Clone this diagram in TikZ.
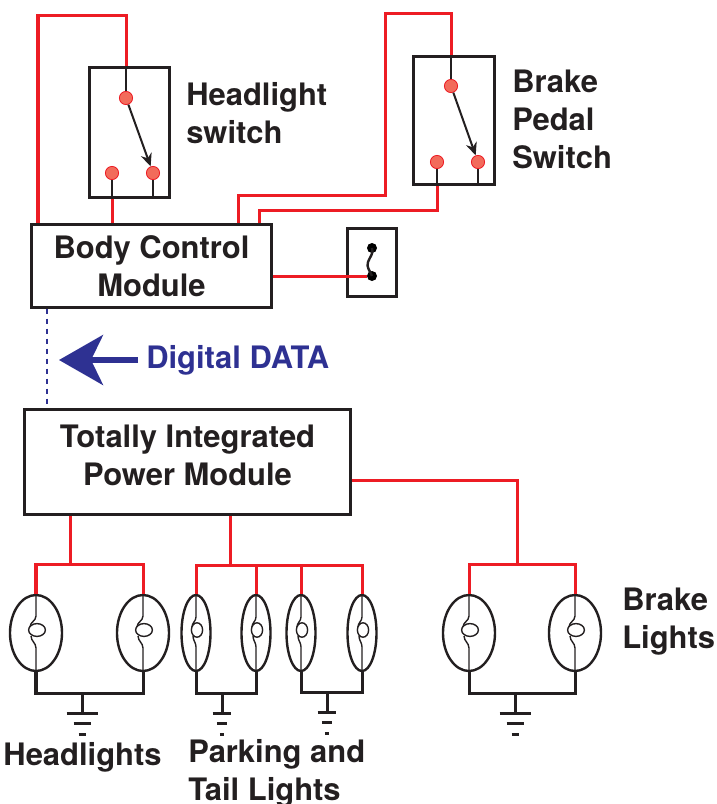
\documentclass[tikz,border=0pt]{standalone}
\usepackage{fontspec}
\setmainfont{TeX Gyre Heros}
\usepackage{tikz}
\usetikzlibrary{shapes,arrows.meta,calc}

\definecolor{wirered}{HTML}{ED1C24}
\definecolor{pinfill}{HTML}{F26B5B}
\definecolor{inkblack}{HTML}{231F20}
\definecolor{datablue}{HTML}{2E3192}

\tikzset{
  wire/.style={wirered, line width=0.075cm},
  lead/.style={inkblack, line width=0.05cm},
  box/.style={draw=inkblack, line width=0.075cm, inner sep=0pt},
  pin/.style={circle, draw=wirered, fill=pinfill, line width=0.02cm, minimum size=0.33cm, inner sep=0pt},
  lamp/.style={ellipse, draw=inkblack, line width=0.06cm, minimum height=1.9cm, inner sep=0pt},
  fil/.style={inkblack, line width=0.035cm},
  gnd/.style={inkblack, line width=0.075cm},
  lbl/.style={font=\bfseries\fontsize{22}{27}\selectfont, text=inkblack, inner sep=0pt},
  dataline/.style={datablue, line width=0.05cm, dash pattern=on 0.125cm off 0.125cm},
  dataarrow/.style={datablue, line width=0.14cm, -{Stealth[length=1.1cm, width=1.25cm, inset=0.3cm]}},
}

\begin{document}
\begin{tikzpicture}[x=0.025cm, y=-0.025cm]
  \useasboundingbox (0,0) rectangle (717,804);

  \node[box, minimum width=1.975cm, minimum height=3.225cm] (hsw) at (129.5,132.5) {};
  \node[box, minimum width=2cm, minimum height=3.175cm] (bsw) at (454,120.5) {};
  \node[box, lbl, align=center, minimum width=5.975cm, minimum height=2.05cm] (bcm) at (151.5,266) {Body Control\\Module};
  \node[box, minimum width=1.2cm, minimum height=1.675cm] (ctc) at (372,262.5) {};
  \node[box, minimum width=8.125cm, minimum height=2.6cm] (tipm) at (187.5,462) {};
  \node[lbl, align=center] (tipmtxt) at (187.5,455) {Totally Integrated\\Power Module};

  \node[pin] (hp1) at (126,98) {};
  \node[pin] (hp2) at (112,173) {};
  \node[pin] (hp3) at (153,173) {};
  \node[pin] (bp1) at (451,86) {};
  \node[pin] (bp2) at (437,162) {};
  \node[pin] (bp3) at (478,162) {};

  \draw[lead] (hp1) -- (hp1 |- hsw.north);
  \draw[lead] (hp2) -- (hp2 |- hsw.south);
  \draw[lead] (hp3) -- (hp3 |- hsw.south);
  \draw[lead] (bp1) -- (bp1 |- bsw.north);
  \draw[lead] (bp2) -- (bp2 |- bsw.south);
  \draw[lead] (bp3) -- (bp3 |- bsw.south);
  \draw[lead, -{Stealth[length=0.32cm, width=0.28cm]}] (hp1) -- (hp3);
  \draw[lead, -{Stealth[length=0.32cm, width=0.28cm]}] (bp1) -- (bp3);

  \node[lbl, align=left, anchor=west] (hswlbl) at (186,113) {Headlight\\switch};
  \node[lbl, align=left, anchor=west] (bswlbl) at (512,119) {Brake\\Pedal\\Switch};

  \coordinate (hloop) at (38,15);
  \draw[wire] (hp1 |- hsw.north) |- (hloop) -- (hloop |- bcm.north);
  \draw[wire] (hp2 |- hsw.south) -- (hp2 |- bcm.north);
  \coordinate (bknee) at (238,195);
  \coordinate (btop) at (385,13);
  \draw[wire] (bknee |- bcm.north) -- (bknee) -| (btop) -| (bp1 |- bsw.north);
  \coordinate (bknee2) at (259,210);
  \draw[wire] (bknee2 |- bcm.north) -- (bknee2) -| (bp2 |- bsw.south);

  \node[circle, fill=black, inner sep=0pt, minimum size=0.25cm] (cdot1) at (372,248) {};
  \node[circle, fill=black, inner sep=0pt, minimum size=0.25cm] (cdot2) at (372,276) {};
  \draw[lead, line width=0.06cm] (cdot1.center) to[out=-70,in=70] (368,262) to[out=-110,in=110] (cdot2.center);
  \draw[wire] (cdot2 -| bcm.east) -- (cdot2);

  \coordinate (dbus) at (47,360);
  \coordinate (dhead) at (59,360);
  \draw[dataline] (dbus |- bcm.south) -- (dbus |- tipm.north);
  \node[lbl, text=datablue, anchor=base west] (dtxt) at (146,368) {Digital DATA};
  \draw[dataarrow] (dhead -| dtxt.west) ++(-8,0) -- (dhead);

  \node[lamp, minimum width=1.3cm] (hl1) at (36,633) {};
  \node[lamp, minimum width=1.3cm] (hl2) at (143,633) {};
  \foreach \n/\x in {pk1/196, pk2/256, pk3/301, pk4/362}
    \node[lamp, minimum width=0.725cm] (\n) at (\x,633) {};
  \node[lamp, minimum width=1.3cm] (bl1) at (469,633) {};
  \node[lamp, minimum width=1.3cm] (bl2) at (575,633) {};

  \foreach \l in {hl1, hl2, bl1, bl2} {
    \draw[fil] (\l.north) -- ($(\l.center)+(0,-17)$) to[out=-90,in=90] ($(\l.center)+(-6,-6)$);
    \draw[fil] ($(\l.center)+(1,-3)$) ellipse (0.21cm and 0.16cm);
    \draw[fil] ($(\l.center)+(-5,3)$) to[out=-90,in=90] ($(\l.center)+(0,15)$) -- (\l.south);
  }
  \foreach \l in {pk1, pk2, pk3, pk4} {
    \draw[fil] (\l.north) -- ($(\l.center)+(0,-16)$) to[out=-90,in=90] ($(\l.center)+(-4,-6)$);
    \draw[fil] ($(\l.center)+(1,-3)$) ellipse (0.14cm and 0.18cm);
    \draw[fil] ($(\l.center)+(-3,3)$) to[out=-90,in=90] ($(\l.center)+(0,14)$) -- (\l.south);
  }

  \coordinate (hlj) at (70,564);
  \draw[wire] (hlj |- tipm.south) -- (hlj);
  \draw[wire] (hl1.north) |- (hlj) -| (hl2.north);
  \coordinate (pkj) at (230,565);
  \draw[wire] (pkj |- tipm.south) -- (pkj);
  \draw[wire] (pk1.north) |- (pkj) -| (pk4.north);
  \draw[wire] (pk2.north) -- (pk2.north |- pkj);
  \draw[wire] (pk3.north) -- (pk3.north |- pkj);
  \coordinate (blr) at (517,480);
  \coordinate (blj) at (517,564);
  \draw[wire] (blr -| tipm.east) -| (blj);
  \draw[wire] (bl1.north) |- (blj) -| (bl2.north);

  \coordinate (hlg) at (82,693);
  \coordinate (pkg1) at (222,693);
  \coordinate (pkg2) at (327,692);
  \coordinate (blg) at (515,693);
  \draw[gnd] (hl1.south) |- (hlg) -| (hl2.south);
  \draw[gnd] (pk1.south) |- (pkg1) -| (pk2.south);
  \draw[gnd] (pk3.south) |- (pkg2) -| (pk4.south);
  \draw[gnd] (bl1.south) |- (blg) -| (bl2.south);
  \foreach \g/\w in {hlg/1, pkg1/0.6, pkg2/0.6, blg/1} {
    \draw[gnd] (\g) -- ++(0,20);
    \draw[gnd] ($(\g)+(-15.5*\w,20)$) -- ++(31*\w,0);
    \draw[gnd] ($(\g)+(-8.5*\w,30)$) -- ++(17*\w,0);
    \draw[gnd] ($(\g)+(-3.5*\w,41)$) -- ++(7*\w,0);
  }

  \node[lbl, anchor=base] (hllbl) at (82.5,765) {Headlights};
  \node[lbl, align=left, anchor=west] (pklbl) at (188,773) {Parking and\\Tail Lights};
  \node[lbl, align=left, anchor=west] (bllbl) at (622,622) {Brake\\Lights};
\end{tikzpicture}
\end{document}
